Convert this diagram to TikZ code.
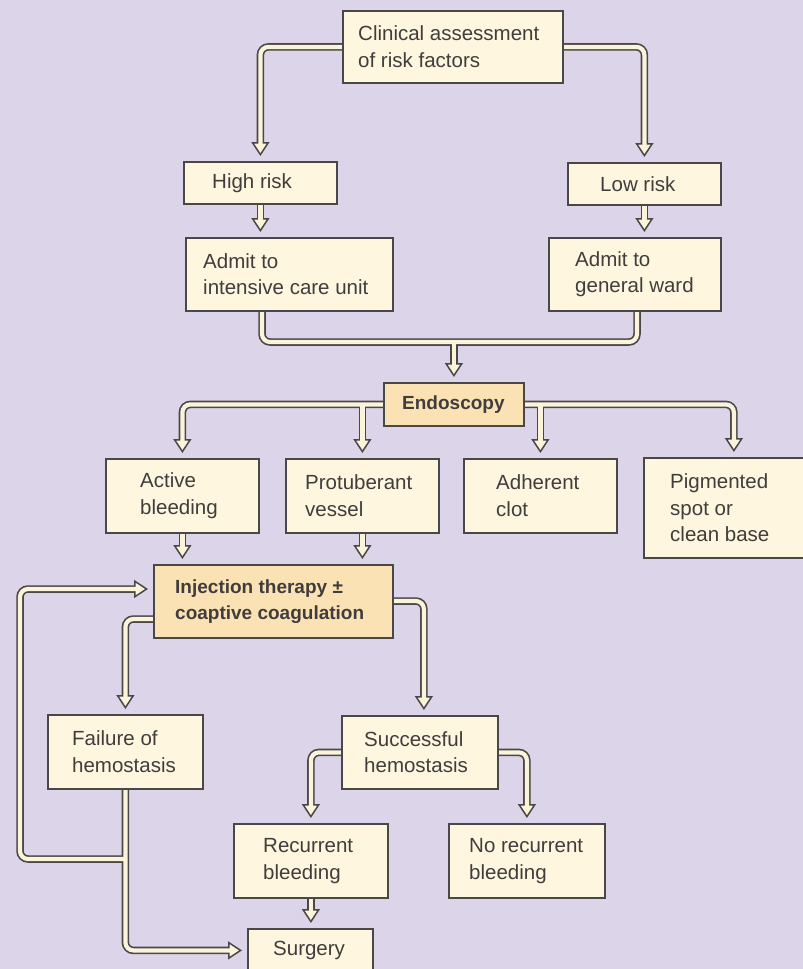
\documentclass[tikz,border=0pt]{standalone}
\usepackage{fontspec}
\setmainfont{Liberation Sans}
\usetikzlibrary{arrows.meta,calc}
\definecolor{bgc}{HTML}{DCD5EA}
\definecolor{cream}{HTML}{FEF6DF}
\definecolor{hi}{HTML}{FBE2B5}
\definecolor{edge}{HTML}{4A4748}
\definecolor{ink}{HTML}{403D3D}
\definecolor{pipein}{HTML}{FBF4DA}
\pgfdeclarelayer{cream}
\pgfdeclarelayer{fg}
\pgfsetlayers{main,cream,fg}
\newcommand\conn[1]{\draw[pipeo] #1; \begin{pgfonlayer}{cream}\draw[pipei] #1;\end{pgfonlayer}}
\newcommand\connar[1]{\draw[arro] #1; \begin{pgfonlayer}{cream}\draw[arri] #1;\end{pgfonlayer}}
\begin{document}
\begin{tikzpicture}[x=1pt,y=-1pt,
 box/.style={draw=edge, line width=1.8pt, fill=cream, inner sep=0pt, anchor=north west},
 hibox/.style={box, fill=hi},
 txt/.style={anchor=west, align=left, inner sep=0pt, text=ink, font=\fontsize{20.5}{26.5}\selectfont},
 btxt/.style={txt, font=\fontsize{19}{26.5}\selectfont\bfseries},
 pipeo/.style={draw=edge, line width=7.5pt, rounded corners=8pt},
 pipei/.style={draw=pipein, line width=4.2pt, rounded corners=8pt},
 arro/.style={pipeo, -{Triangle[length=14pt,width=18pt,line width=1.5pt,fill=pipein]}, shorten >=5pt},
 arri/.style={pipei, shorten >=16pt},
]
\useasboundingbox (0,0) rectangle (803,969);
\fill[bgc] (0,0) rectangle (803,969);

\begin{pgfonlayer}{fg}
\node[box, minimum width=220pt, minimum height=72pt] (top) at (342,10) {};
\node[txt] (topt) at ($(top.west)+(16,0)$) {Clinical assessment\\of risk factors};
\node[box, minimum width=153pt, minimum height=42pt] (hr) at (183,161) {};
\node[txt] (hrt) at ($(hr.west)+(29,0)$) {High risk};
\node[box, minimum width=153pt, minimum height=42pt] (lr) at (567,162) {};
\node[txt] (lrt) at ($(lr.west)+(33,0)$) {Low risk};
\node[box, minimum width=207pt, minimum height=73pt] (icu) at (185,237) {};
\node[txt] (icut) at ($(icu.west)+(18,0)$) {Admit to\\intensive care unit};
\node[box, minimum width=172pt, minimum height=73pt] (gen) at (548,237) {};
\node[txt] (gent) at ($(gen.west)+(27,0)$) {Admit to\\general ward};
\node[hibox, minimum width=140pt, minimum height=43pt] (endo) at (383,382) {};
\node[btxt] (endot) at ($(endo.west)+(19,0)$) {Endoscopy};
\node[box, minimum width=153pt, minimum height=74pt] (act) at (105,458) {};
\node[txt] (actt) at ($(act.west)+(35,0)$) {Active\\bleeding};
\node[box, minimum width=153pt, minimum height=74pt] (prot) at (285,458) {};
\node[txt] (prott) at ($(prot.west)+(20,0)$) {Protuberant\\vessel};
\node[box, minimum width=153pt, minimum height=74pt] (adh) at (463,458) {};
\node[txt] (adht) at ($(adh.west)+(33,0)$) {Adherent\\clot};
\node[box, minimum width=180pt, minimum height=100pt] (pig) at (643,457) {};
\node[txt] (pigt) at ($(pig.west)+(27,0)$) {Pigmented\\spot or\\clean base};
\node[hibox, minimum width=239pt, minimum height=73pt] (inj) at (153,564) {};
\node[btxt] (injt) at ($(inj.west)+(22,0)$) {Injection therapy ±\\coaptive coagulation};
\node[box, minimum width=155pt, minimum height=74pt] (fail) at (47,714) {};
\node[txt] (failt) at ($(fail.west)+(25,0)$) {Failure of\\hemostasis};
\node[box, minimum width=156pt, minimum height=73pt] (succ) at (341,715) {};
\node[txt] (succt) at ($(succ.west)+(23,0)$) {Successful\\hemostasis};
\node[box, minimum width=154pt, minimum height=74pt] (rec) at (233,823) {};
\node[txt] (rect) at ($(rec.west)+(30,0)$) {Recurrent\\bleeding};
\node[box, minimum width=156pt, minimum height=74pt] (norec) at (448,823) {};
\node[txt] (norect) at ($(norec.west)+(21,0)$) {No recurrent\\bleeding};
\node[box, minimum width=125pt, minimum height=43pt] (surg) at (247,928) {};
\node[txt] (surgt) at ($(surg.west)+(26,0)$) {Surgery};
\end{pgfonlayer}

\coordinate (m1) at (262,342);
\coordinate (m2) at (637,342);
\coordinate (loopb) at (20,859);
\coordinate (loopt) at (20,589);

\connar{(top.west) -| (hr.north)}
\connar{(top.east) -| (lr.north)}
\connar{(hr.south) -- (hr.south |- icu.north)}
\connar{(lr.south) -- (lr.south |- gen.north)}
\conn{(m1 |- icu.south) -- (m1) -- (m2) -- (m2 |- gen.south)}
\connar{(endo.north |- m1) -- (endo.north)}
\connar{(endo.west) -| (act.north)}
\connar{(prot.north |- endo.west) -- (prot.north)}
\connar{(endo.east) -| (pig.north)}
\connar{(adh.north |- endo.east) -- (adh.north)}
\connar{(act.south) -- (act.south |- inj.north)}
\connar{(prot.south) -- (prot.south |- inj.north)}
\connar{($(inj.north west)+(0,55)$) -| (fail.north)}
\connar{($(inj.north east)+(0,37)$) -| ($(succ.north)+(4,0)$)}
\connar{(succ.west) -| (rec.north)}
\connar{(succ.east) -| (norec.north)}
\connar{(rec.south) -- (rec.south |- surg.north)}
\connar{(fail.south) |- (surg.west)}
\connar{(fail.south |- loopb) -- (loopb) -- (loopt) -- (loopt -| inj.west)}
\end{tikzpicture}
\end{document}
